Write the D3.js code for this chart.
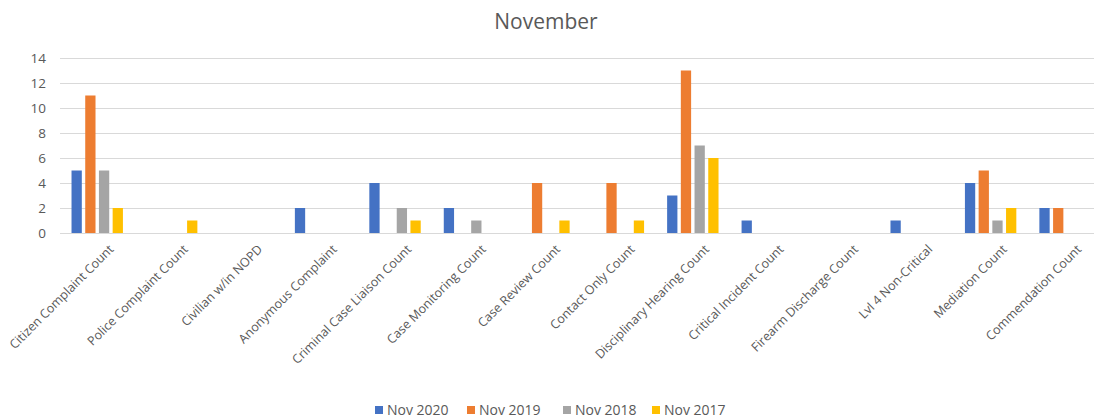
<!DOCTYPE html>
<html><head><meta charset="utf-8">
<script src="https://cdn.jsdelivr.net/npm/d3@7"></script>
<style>body{margin:0;background:#fff;} svg{display:block;}</style>
</head><body>
<svg id="c" width="1094" height="420"></svg>
<script>
const categories = ["Citizen Complaint Count","Police Complaint Count","Civilian w/in NOPD","Anonymous Complaint","Criminal Case Liaison Count","Case Monitoring Count","Case Review Count","Contact Only Count","Disciplinary Hearing Count","Critical Incident Count","Firearm Discharge Count","Lvl 4 Non-Critical","Mediation Count","Commendation Count"];
const seriesNames = ["Nov 2020","Nov 2019","Nov 2018","Nov 2017"];
const nov2020 = [5,0,0,2,4,2,0,0,3,1,0,1,4,2];
const nov2019 = [11,0,0,0,0,0,4,4,13,0,0,0,5,2];
const nov2018 = [5,0,0,0,2,1,0,0,7,0,0,0,1,0];
const nov2017 = [2,1,0,0,1,0,1,1,6,0,0,0,2,0];
const yTicks = [0,2,4,6,8,10,12,14];
const colors = ["#4472C4","#ED7D31","#A5A5A5","#FFC000"];
const seriesValues = [nov2020, nov2019, nov2018, nov2017];

const svg = d3.select("#c");
const font = "'Open Sans', sans-serif";
const pLeft = 60, pRight = 60 + 14*74.45, pTop = 58, pBottom = 233;

const x0 = d3.scaleBand().domain(categories).range([pLeft, pRight]).padding(0);
const bw = x0.bandwidth();
const x1 = d3.scaleBand().domain(seriesNames).range([bw/2 - 25.7, bw/2 + 25.7]).paddingInner(0.25);
const y = d3.scaleLinear().domain([0,14]).range([pBottom, pTop]);

// gridlines
svg.append("g").selectAll("line").data(yTicks).join("line")
  .attr("x1", pLeft).attr("x2", 1094)
  .attr("y1", d => Math.round(y(d)) + 0.5).attr("y2", d => Math.round(y(d)) + 0.5)
  .attr("stroke", "#d9d9d9").attr("stroke-width", 1);

// y tick labels
svg.append("g").selectAll("text").data(yTicks).join("text")
  .attr("x", 46).attr("y", d => y(d)).attr("dy", "0.35em")
  .attr("text-anchor", "end").attr("font-family", font).attr("font-size", 13.5)
  .attr("fill", "#595959").text(d => d);

// bars
const groups = svg.append("g").selectAll("g").data(categories).join("g")
  .attr("transform", d => `translate(${x0(d)},0)`);
groups.selectAll("rect").data((d, i) => seriesNames.map((s, j) => ({s, v: seriesValues[j][i], j})))
  .join("rect")
  .attr("x", d => x1(d.s)).attr("width", x1.bandwidth())
  .attr("y", d => y(d.v)).attr("height", d => y(0) - y(d.v))
  .attr("fill", d => colors[d.j]);

// category labels
svg.append("g").selectAll("text").data(categories).join("text")
  .attr("transform", d => `translate(${x0(d) + bw/2 + 14},${pBottom + 14}) rotate(-45)`)
  .attr("text-anchor", "end").attr("dy", "0.35em")
  .attr("font-family", font).attr("font-size", 12.5).attr("fill", "#595959")
  .text(d => d);

// title
svg.append("text").attr("x", 546).attr("y", 29).attr("text-anchor", "middle")
  .attr("font-family", font).attr("font-size", 21).attr("fill", "#595959").text("November");

// legend
const legendX = [375, 467, 563, 652];
const lg = svg.append("g").selectAll("g").data(seriesNames).join("g")
  .attr("transform", (d, i) => `translate(${legendX[i]},410)`);
lg.append("rect").attr("x", 0).attr("y", -4).attr("width", 8).attr("height", 8)
  .attr("fill", (d, i) => colors[i]);
lg.append("text").attr("x", 12).attr("y", 0).attr("dy", "0.35em")
  .attr("font-family", font).attr("font-size", 14).attr("fill", "#595959").text(d => d);
</script>
</body></html>
